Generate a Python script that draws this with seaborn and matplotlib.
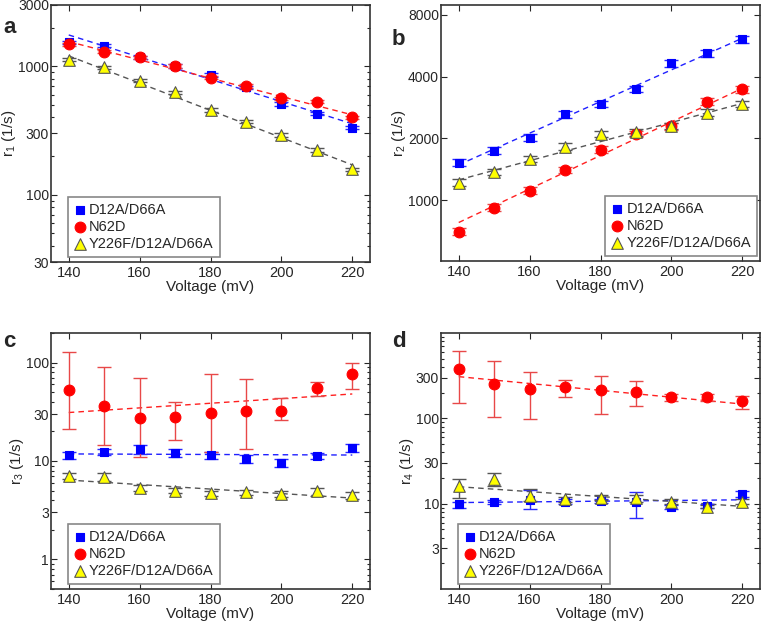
import numpy as np
import pandas as pd
import matplotlib
matplotlib.use("Agg")
import matplotlib.pyplot as plt
import matplotlib.ticker as mticker
import seaborn as sns

# data
voltage = [140, 150, 160, 170, 180, 190, 200, 210, 220]
fit_v = [140, 220]
names = ["D12A/D66A", "N62D", "Y226F/D12A/D66A"]

# panel a - r1
r1_d12a = [1540, 1450, 1176, 1007, 857, 687, 510, 429, 334]
r1_n62d = [1485, 1302, 1176, 1007, 817, 705, 564, 532, 402]
r1_y226f = [1122, 984, 775, 629, 458, 370, 293, 224, 158]
r1_err_d12a = [45, 45, 35, 30, 25, 20, 15, 13, 10]
r1_err_n62d = [45, 40, 35, 30, 25, 21, 17, 16, 12]
r1_err_y226f = [30, 28, 22, 18, 14, 11, 9, 7, 5]
r1_fit_d12a = [1754, 357]
r1_fit_n62d = [1557, 419]
r1_fit_y226f = [1205, 171]

# panel b - r2
r2_d12a = [1524, 1744, 2016, 2623, 2947, 3487, 4648, 5199, 6088]
r2_n62d = [703, 920, 1113, 1406, 1762, 2098, 2289, 3026, 3475]
r2_y226f = [1218, 1370, 1585, 1825, 2098, 2138, 2304, 2674, 2947]
r2_err_d12a = [60, 65, 75, 95, 105, 125, 165, 185, 215]
r2_err_n62d = [30, 35, 40, 50, 65, 75, 85, 110, 125]
r2_err_y226f = [45, 50, 55, 65, 75, 75, 85, 95, 105]
r2_fit_d12a = [1487, 6163]
r2_fit_n62d = [778, 3510]
r2_fit_y226f = [1256, 2966]

# panel c - r3
r3_d12a = [11.4, 12.3, 13.3, 12.1, 11.4, 10.5, 9.6, 11.2, 13.6]
r3_n62d = [52.2, 36.3, 27.5, 27.9, 30.6, 32.3, 32.3, 54.7, 76.9]
r3_y226f = [7.0, 6.9, 5.3, 5.0, 4.7, 4.8, 4.6, 4.9, 4.5]
r3_err_d12a = [1.0, 0.9, 1.4, 1.2, 0.9, 0.9, 0.9, 0.8, 1.3]
r3_lo_n62d = [21.3, 14.6, 11.1, 16.3, 12.3, 13.1, 26.0, 45.4, 53.4]
r3_hi_n62d = [129, 90, 69, 39.5, 77.5, 68, 44, 62.9, 99.2]
r3_err_y226f = [0.5, 0.6, 0.35, 0.3, 0.3, 0.3, 0.3, 0.45, 0.35]
r3_fit_d12a = [11.8, 11.5]
r3_fit_n62d = [31.1, 48.0]
r3_fit_y226f = [6.4, 4.2]

# panel d - r4
r4_d12a = [9.8, 10.5, 11.1, 10.6, 10.8, 10.4, 9.1, 9.3, 12.9]
r4_n62d = [375, 253, 221, 231, 213, 204, 177, 177, 158]
r4_y226f = [16.2, 19.7, 12.4, 11.2, 11.8, 11.6, 10.5, 9.2, 10.6]
r4_lo_d12a = [9.0, 10.0, 8.6, 10.0, 10.2, 6.75, 8.6, 8.9, 12.0]
r4_hi_d12a = [10.6, 11.0, 14.4, 11.2, 11.4, 13.8, 9.7, 9.8, 13.9]
r4_lo_n62d = [151, 103, 98, 177, 112, 139, 158, 160, 130]
r4_hi_n62d = [612, 472, 349, 284, 316, 272, 195, 195, 185]
r4_lo_y226f = [11.5, 16.2, 10.8, 10.6, 11.0, 10.5, 9.8, 8.8, 10.0]
r4_hi_y226f = [19.4, 22.6, 14.8, 12.0, 12.8, 12.8, 11.2, 9.7, 11.2]
r4_fit_d12a = [10.3, 11.1]
r4_fit_n62d = [308, 147]
r4_fit_y226f = [15.8, 9.3]

sns.set_style("ticks")
plt.rcParams["font.family"] = ["Liberation Sans", "DejaVu Sans"]
plt.rcParams["mathtext.default"] = "regular"
plt.rcParams["font.size"] = 10.5

# marker style per series: marker, face, edge, size, errorbar colour, fit colour
styles = [
    ("s", "#0000ff", "#0000ff", 34, "#2a2aff", "#2020ff"),
    ("o", "#ff0000", "#ff0000", 60, "#e84848", "#ff2020"),
    ("^", "#ffff00", "#555555", 70, "#555555", "#555555"),
]


def yerr_sym(vals, err):
    return [list(err), list(err)]


def yerr_bounds(vals, lo, hi):
    return [list(np.array(vals) - np.array(lo)), list(np.array(hi) - np.array(vals))]


def draw_panel(ax, series, errs, fits, ylim, yticks, ylabel, legend_right=False):
    for i, (vals, err, fit) in enumerate(zip(series, errs, fits)):
        mk, face, edge, size, ecol, fcol = styles[i]
        sns.lineplot(x=fit_v, y=fit, ax=ax, color=fcol, linestyle=(0, (4, 3)),
                     linewidth=1.0, zorder=1)
        ax.errorbar(voltage, vals, yerr=err, fmt="none", ecolor=ecol,
                    elinewidth=1.0, capsize=5, capthick=1.0, zorder=2)
    for i, vals in enumerate(series):
        mk, face, edge, size, ecol, fcol = styles[i]
        sns.scatterplot(x=voltage, y=vals, ax=ax, marker=mk, color=face,
                        edgecolor=edge, linewidth=0.8, s=size, label=names[i],
                        zorder=3)
    ax.set_yscale("log")
    ax.set_ylim(*ylim)
    ax.set_xlim(135, 225)
    ax.set_xticks([140, 160, 180, 200, 220])
    ax.yaxis.set_major_locator(mticker.FixedLocator(yticks))
    ax.yaxis.set_major_formatter(mticker.FixedFormatter([str(t) for t in yticks]))
    ax.tick_params(which="both", direction="in", top=True, right=True,
                   labelsize=10.5, width=0.8)
    ax.tick_params(which="major", length=4)
    ax.tick_params(which="minor", length=2)
    ax.tick_params(axis="y", pad=1.5, labelsize=10)
    ax.tick_params(axis="x", pad=3)
    ax.set_xlabel("Voltage (mV)", fontsize=11, labelpad=0)
    ax.set_ylabel(ylabel, fontsize=11, labelpad=0)
    for sp in ax.spines.values():
        sp.set_linewidth(1.2)
        sp.set_color("#333333")
    leg_kw = dict(borderaxespad=0, fontsize=10.5, labelspacing=0.2,
                  handlelength=0.8, handletextpad=0.25, borderpad=0.4)
    if legend_right:
        leg = ax.legend(loc="lower right", bbox_to_anchor=(0.99, 0.02), **leg_kw)
    else:
        leg = ax.legend(loc="lower left", bbox_to_anchor=(0.053, 0.02), **leg_kw)
    leg.get_frame().set_edgecolor("#888888")
    leg.get_frame().set_linewidth(1.2)
    leg.get_frame().set_boxstyle("square", pad=0.0)
    leg.get_frame().set_alpha(1)
    return leg


fig = plt.figure(figsize=(7.61, 6.23), dpi=100)
ax_a = fig.add_axes([51 / 761, 1 - 262 / 623, 319 / 761, 257 / 623])
ax_b = fig.add_axes([441 / 761, 1 - 261 / 623, 319 / 761, 256 / 623])
ax_c = fig.add_axes([51 / 761, 1 - 589 / 623, 319 / 761, 256 / 623])
ax_d = fig.add_axes([441 / 761, 1 - 589 / 623, 319 / 761, 256 / 623])

draw_panel(ax_a, [r1_d12a, r1_n62d, r1_y226f],
           [yerr_sym(r1_d12a, r1_err_d12a), yerr_sym(r1_n62d, r1_err_n62d),
            yerr_sym(r1_y226f, r1_err_y226f)],
           [r1_fit_d12a, r1_fit_n62d, r1_fit_y226f],
           (30, 3000), [30, 100, 300, 1000, 3000], "r$_1$ (1/s)")

draw_panel(ax_b, [r2_d12a, r2_n62d, r2_y226f],
           [yerr_sym(r2_d12a, r2_err_d12a), yerr_sym(r2_n62d, r2_err_n62d),
            yerr_sym(r2_y226f, r2_err_y226f)],
           [r2_fit_d12a, r2_fit_n62d, r2_fit_y226f],
           (505, 8950), [1000, 2000, 4000, 8000], "r$_2$ (1/s)", legend_right=True)
ax_b.yaxis.set_minor_locator(mticker.NullLocator())

draw_panel(ax_c, [r3_d12a, r3_n62d, r3_y226f],
           [yerr_sym(r3_d12a, r3_err_d12a), yerr_bounds(r3_n62d, r3_lo_n62d, r3_hi_n62d),
            yerr_sym(r3_y226f, r3_err_y226f)],
           [r3_fit_d12a, r3_fit_n62d, r3_fit_y226f],
           (0.5, 200), [1, 3, 10, 30, 100], "r$_3$ (1/s)")

draw_panel(ax_d, [r4_d12a, r4_n62d, r4_y226f],
           [yerr_bounds(r4_d12a, r4_lo_d12a, r4_hi_d12a),
            yerr_bounds(r4_n62d, r4_lo_n62d, r4_hi_n62d),
            yerr_bounds(r4_y226f, r4_lo_y226f, r4_hi_y226f)],
           [r4_fit_d12a, r4_fit_n62d, r4_fit_y226f],
           (1, 1000), [3, 10, 30, 100, 300], "r$_4$ (1/s)")

for lbl, x, y in [("a", 3, 33), ("b", 392, 45), ("c", 3, 347), ("d", 392, 347)]:
    fig.text(x / 761, 1 - y / 623, lbl, fontsize=16, fontweight="bold",
             ha="left", va="baseline")

fig.savefig("out.png", dpi=100)
